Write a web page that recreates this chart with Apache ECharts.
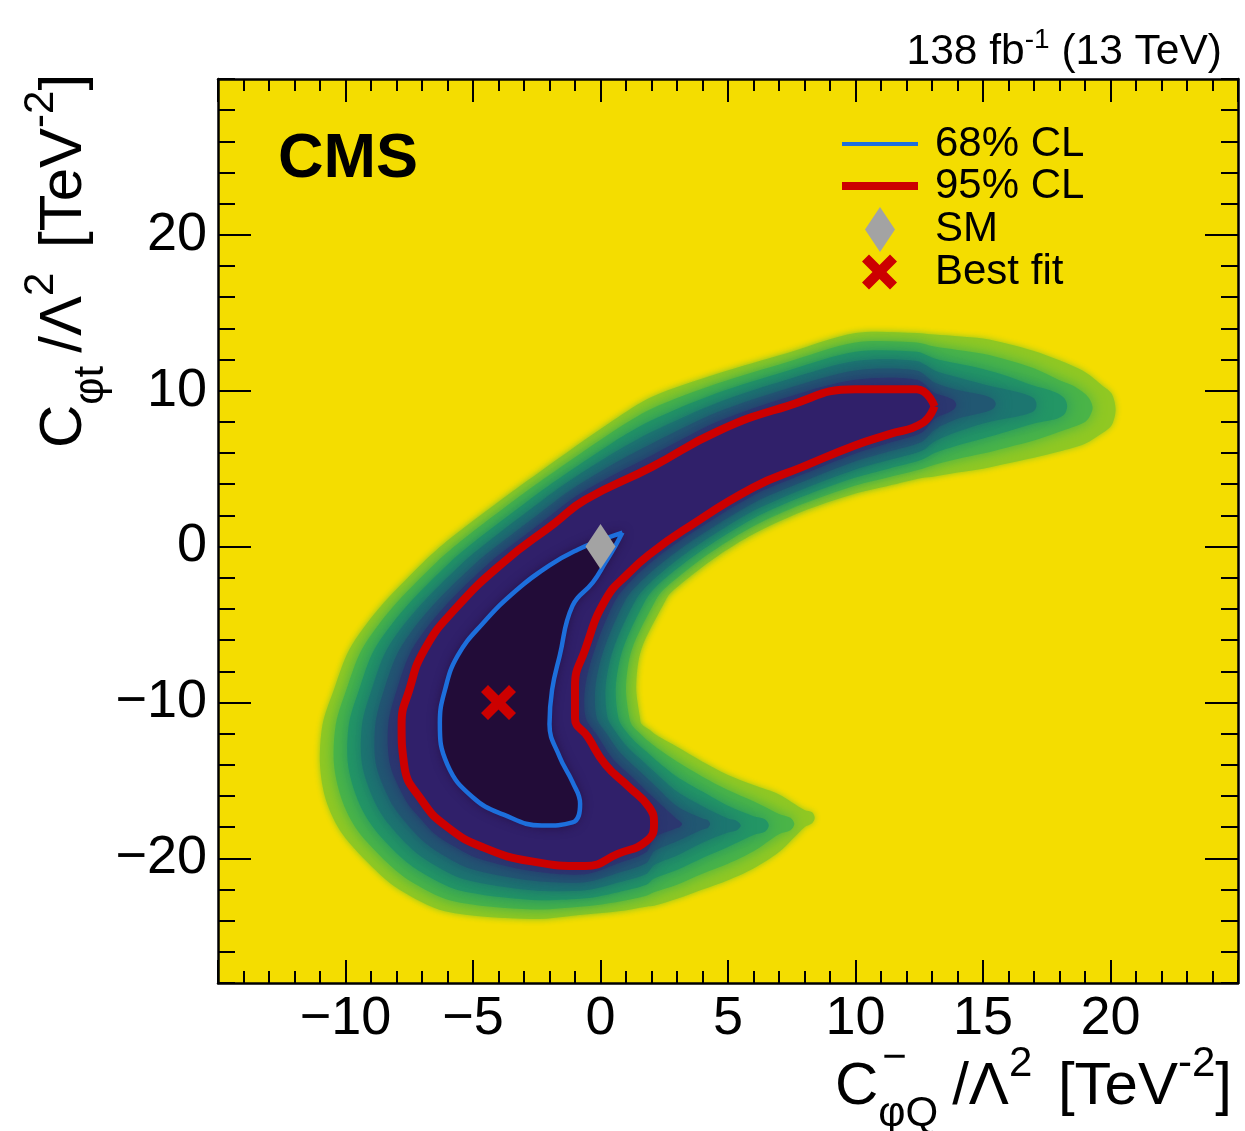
<!DOCTYPE html>
<html>
<head>
<meta charset="utf-8">
<script src="https://cdn.jsdelivr.net/npm/echarts@6/dist/echarts.min.js"></script>
<style>
html,body{margin:0;padding:0;background:#ffffff;}
#chart{width:1245px;height:1131px;}
</style>
</head>
<body>
<div id="chart"></div>
<script>
// ---------------- data ----------------
const xTickLabels = [-10, -5, 0, 5, 10, 15, 20];
const yTickLabels = [-20, -10, 0, 10, 20];

// SM expectation and best-fit point
const smPoint = [0.0, 0.0];
const bestFitPoint = [-4.0, -10.0];

// 68% CL contour (blue)
const contour68 = [[0.86,0.9],[0.6,0.1],[0.2,-1.0],[-0.3,-2.3],[-1.1,-3.8],[-1.6,-7.0],[-1.9,-9.2],[-2.0,-11.4],[-1.6,-13.5],[-1.1,-15.1],[-0.8,-16.5],[-1.1,-17.7],[-2.3,-17.9],[-3.8,-17.2],[-5.0,-16.1],[-6.0,-14.0],[-6.3,-11.3],[-6.1,-9.2],[-5.6,-7.0],[-4.6,-4.9],[-3.3,-2.8],[-2.0,-1.2],[-0.9,-0.2],[0.0,0.4],[0.86,0.9]];

// 95% CL contour (red)
const contour95 = [[13.1,9.0],[12.4,10.1],[10.0,10.1],[7.3,9.0],[4.6,7.4],[2.0,5.1],[-0.6,3.0],[-1.8,1.5],[-3.8,-1.0],[-5.7,-4.0],[-6.9,-6.6],[-7.5,-9.2],[-7.8,-11.4],[-7.7,-14.0],[-7.0,-16.3],[-6.0,-18.0],[-4.6,-19.3],[-2.7,-20.2],[-0.6,-20.5],[0.7,-19.7],[1.8,-18.9],[2.1,-17.8],[1.9,-16.7],[1.1,-15.4],[0.2,-14.0],[-0.5,-12.2],[-1.0,-11.0],[-1.0,-9.0],[-0.6,-6.6],[0.2,-3.4],[1.1,-1.7],[2.0,-0.4],[3.3,1.1],[6.0,3.8],[7.9,5.1],[10.0,6.5],[11.3,7.2],[12.6,7.9],[13.1,9.0]];

// Iso-level boundaries of the -2 dlnL map (palette steps 7 ... 2)
const level7 = [[20.2,8.8],[20.05,9.8],[19.7,10.3],[19,11.2],[18,11.95],[17,12.55],[16,13.0],[15,13.35],[14,13.5],[13.1,13.6],[12.4,13.7],[10,13.7],[7.3,12.4],[4.6,11.1],[2.0,9.6],[0.5,8.1],[-2.39,4.79],[-3.63,3.33],[-5.91,0.5],[-6.95,-1.0],[-8.71,-4.0],[-9.85,-6.6],[-10.46,-9.2],[-10.9,-11.4],[-11.0,-14.0],[-10.76,-16.3],[-10.13,-18.42],[-8.8,-20.8],[-7.9,-22.0],[-6.1,-23.4],[-2.7,-23.9],[-0.6,-23.6],[0.7,-23.4],[1.8,-23.1],[2.1,-23.05],[3,-22.6],[4,-22.0],[5,-21.4],[6,-20.65],[7,-19.6],[8,-18.0],[8.3,-17.75],[8.4,-17.4],[8.3,-17.05],[8,-16.9],[7,-15.9],[6,-15.3],[5,-14.65],[4,-13.8],[3,-12.85],[2.37,-12.27],[2.16,-12.06],[1.93,-11.75],[1.6,-11.36],[1.55,-11.0],[1.4,-9.0],[1.6,-6.6],[2.57,-3.4],[2.71,-3.04],[3.52,-1.92],[4.6,-0.6],[6.0,0.8],[7.9,2.23],[10,3.4],[11.3,3.9],[12.6,4.4],[13.1,4.5],[14,4.75],[15,5.0],[16,5.35],[17,5.7],[18,6.1],[19,6.6],[19.7,7.3],[20.05,7.8]];
const level6 = [[19.3,8.9],[19.2,9.4],[19.0,9.8],[18.5,10.35],[18,10.67],[17,11.44],[16,11.96],[15,12.37],[14,12.62],[13.1,12.83],[12.4,13.1],[10,13.1],[7.3,11.83],[4.6,10.48],[2.0,8.85],[0.5,7.4],[-2.09,4.49],[-3.33,3.03],[-5.36,0.5],[-6.43,-1.0],[-8.21,-4.0],[-9.36,-6.6],[-9.97,-9.2],[-10.38,-11.4],[-10.45,-14.0],[-10.13,-16.3],[-9.53,-18.21],[-8.33,-20.33],[-7.47,-21.45],[-5.85,-22.72],[-2.7,-23.28],[-0.6,-23.08],[0.7,-22.78],[1.8,-22.4],[2.1,-22.18],[3,-21.69],[4,-20.99],[5,-20.35],[6,-19.55],[7,-18.45],[7.45,-18.2],[7.6,-17.8],[7.45,-17.4],[7,-17.15],[6,-16.34],[5,-15.62],[4,-14.76],[3,-13.79],[2.29,-13.01],[1.98,-12.62],[1.64,-12.13],[1.25,-11.5],[1.13,-11.0],[1.0,-9.0],[1.23,-6.6],[2.18,-3.4],[2.44,-2.82],[3.27,-1.67],[4.38,-0.32],[6.0,1.3],[7.9,2.71],[10,3.92],[11.3,4.45],[12.6,4.98],[13.1,5.25],[14,5.62],[15,5.97],[16,6.38],[17,6.8],[18,7.36],[18.5,7.65],[19.0,8.0],[19.2,8.4]];
const level5 = [[18.3,9.0],[18.2,9.5],[17.9,9.85],[17.5,10.1],[17,10.32],[16,10.92],[15,11.4],[14,11.74],[13.1,12.07],[12.4,12.5],[10,12.5],[7.3,11.27],[4.6,9.87],[2.0,8.1],[0.5,6.7],[-1.79,4.19],[-3.02,2.72],[-4.81,0.5],[-5.9,-1.0],[-7.7,-4.0],[-8.87,-6.6],[-9.47,-9.2],[-9.87,-11.4],[-9.9,-14.0],[-9.51,-16.3],[-8.92,-18.0],[-7.87,-19.87],[-7.03,-20.9],[-5.6,-22.03],[-2.7,-22.67],[-0.6,-22.57],[0.7,-22.17],[1.8,-21.7],[2.1,-21.3],[3,-20.75],[4,-19.98],[5,-19.27],[6,-18.5],[6.45,-18.3],[6.6,-17.9],[6.45,-17.5],[6,-17.3],[5,-16.63],[4,-15.72],[3,-14.76],[2.21,-13.75],[1.81,-13.17],[1.35,-12.5],[0.9,-11.64],[0.7,-11.0],[0.6,-9.0],[0.87,-6.6],[1.78,-3.4],[2.17,-2.59],[3.01,-1.41],[4.17,-0.03],[6.0,1.8],[7.9,3.19],[10,4.43],[11.3,5.0],[12.6,5.57],[13.1,6.0],[14,6.49],[15,6.93],[16,7.4],[17,7.89],[17.5,8.05],[17.9,8.2],[18.2,8.5]];
const level4 = [[17.1,9.1],[17.0,9.5],[16.6,9.8],[16,10.05],[15,10.42],[14,10.86],[13.1,11.3],[12.4,11.9],[10,11.9],[7.3,10.7],[4.6,9.25],[2.0,7.35],[0.5,6.0],[-1.5,3.9],[-2.72,2.42],[-4.26,0.5],[-5.38,-1.0],[-7.2,-4.0],[-8.38,-6.6],[-8.98,-9.2],[-9.35,-11.4],[-9.35,-14.0],[-8.88,-16.3],[-8.32,-17.79],[-7.4,-19.4],[-6.6,-20.35],[-5.35,-21.35],[-2.7,-22.05],[-0.6,-22.05],[0.7,-21.55],[1.8,-21.0],[2.1,-20.43],[3,-19.82],[4,-19.0],[5,-18.35],[5.35,-18.2],[5.5,-17.9],[5.35,-17.6],[5,-17.45],[4,-16.66],[3,-15.72],[2.14,-14.49],[1.63,-13.73],[1.07,-12.88],[0.55,-11.78],[0.28,-11.0],[0.2,-9.0],[0.5,-6.6],[1.39,-3.4],[1.91,-2.37],[2.76,-1.16],[3.95,0.25],[6.0,2.3],[7.9,3.67],[10,4.95],[11.3,5.55],[12.6,6.15],[13.1,6.75],[14,7.36],[15,7.9],[16,8.25],[16.6,8.45],[17.0,8.7]];
const level3 = [[15.5,9.15],[15.4,9.45],[15.0,9.72],[14,10.05],[13.1,10.53],[12.4,11.3],[10,11.3],[7.3,10.13],[4.6,8.63],[2.0,6.6],[0.5,5.3],[-1.2,3.6],[-2.41,2.11],[-3.7,0.5],[-4.85,-1.0],[-6.7,-4.0],[-7.88,-6.6],[-8.49,-9.2],[-8.83,-11.4],[-8.8,-14.0],[-8.25,-16.3],[-7.71,-17.57],[-6.93,-18.93],[-6.17,-19.8],[-5.1,-20.67],[-2.7,-21.43],[-0.6,-21.53],[0.7,-20.93],[1.8,-20.3],[2.1,-19.55],[3,-18.9],[4,-18.15],[4.2,-18.05],[4.3,-17.8],[4.2,-17.55],[4,-17.45],[3,-16.66],[2.06,-15.22],[1.45,-14.29],[0.78,-13.25],[0.2,-11.92],[-0.15,-11.0],[-0.2,-9.0],[0.13,-6.6],[0.99,-3.4],[1.64,-2.15],[2.51,-0.91],[3.73,0.53],[6.0,2.8],[7.9,4.14],[10,5.47],[11.3,6.1],[12.6,6.73],[13.1,7.5],[14,8.2],[15.0,8.6],[15.4,8.85]];
const level2 = [[13.95,9.1],[13.85,9.4],[13.5,9.65],[13.1,9.85],[12.4,10.7],[10,10.7],[7.3,9.57],[4.6,8.02],[2.0,5.85],[0.5,4.6],[-0.9,3.3],[-2.11,1.81],[-3.15,0.5],[-4.33,-1.0],[-6.2,-4.0],[-7.39,-6.6],[-7.99,-9.2],[-8.32,-11.4],[-8.25,-14.0],[-7.63,-16.3],[-7.11,-17.36],[-6.47,-18.47],[-5.73,-19.25],[-4.85,-19.98],[-2.7,-20.82],[-0.6,-21.02],[0.7,-20.32],[1.8,-19.6],[2.1,-18.68],[3,-18.05],[3.1,-18.0],[3.2,-17.8],[3.1,-17.6],[3,-17.5],[1.98,-15.96],[1.28,-14.84],[0.49,-13.63],[-0.15,-12.06],[-0.58,-11.0],[-0.6,-9.0],[-0.23,-6.6],[0.6,-3.4],[1.37,-1.92],[2.25,-0.65],[3.52,0.82],[6.0,3.3],[7.9,4.62],[10,5.98],[11.3,6.65],[12.6,7.32],[13.1,8.2],[13.5,8.5],[13.85,8.8]];

// ---------------- styling ----------------
const FONT = '"Liberation Sans", Arial, Helvetica, sans-serif';
const viridis = ['#1a091e', '#331860', '#2b3770', '#215772', '#1c7670', '#239665', '#4ab448', '#90c823', '#f4dd00'];
const RED = '#cc0000';
const BLUE = '#1d6fdc';
const GREY = '#a3a3a3';
const CROSS = 'path://M20,0 L50,30 L80,0 L100,20 L70,50 L100,80 L80,100 L50,70 L20,100 L0,80 L30,50 L0,20 Z';

function fmtNum(v) { return v < 0 ? '\u2212' + Math.abs(v) : String(v); }

function bandSeries(pts, color, blur) {
  return {
    type: 'custom', coordinateSystem: 'cartesian2d', xAxisIndex: 0, yAxisIndex: 0,
    silent: true, clip: true, animation: false,
    data: pts,
    encode: { x: 0, y: 1 },
    renderItem: function (params, api) {
      if (params.dataIndex !== 0) return null;
      const points = pts.map(function (p) { return api.coord(p); });
      return { type: 'polygon', shape: { points: points, smooth: 0.3 },
               style: { fill: color, shadowBlur: blur, shadowColor: color } };
    }
  };
}

// text layout helper (positions only)
const mctx = document.createElement('canvas').getContext('2d');
function tw(t, size, weight) { mctx.font = (weight || 'normal') + ' ' + size + 'px ' + FONT; return mctx.measureText(t).width; }
function runWidth(pieces) {
  let w = 0;
  pieces.forEach(function (p) { w += (p.dx || 0); if (!p.stack) w += tw(p.t, p.size, p.weight); });
  return w;
}
function buildRun(pieces, x0, midY) {
  const els = []; let x = x0;
  pieces.forEach(function (p) {
    x += (p.dx || 0);
    els.push({ type: 'text', x: x, y: midY + (p.dy || 0), silent: true,
      style: { text: p.t, fontSize: p.size, fontFamily: FONT, fontWeight: p.weight || 'normal', fill: '#000',
               align: 'left', verticalAlign: 'middle', textAlign: 'left', textVerticalAlign: 'middle' } });
    if (!p.stack) x += tw(p.t, p.size, p.weight);
  });
  return els;
}

const xTitle = [
  { t: 'C', size: 60 },
  { t: '\u2212', size: 42, dy: -29, stack: true, dx: 4 },
  { t: '\u03c6Q', size: 42, dy: 27, dx: -4 },
  { t: '/\u039b', size: 60, dx: 14 },
  { t: '2', size: 42, dy: -23 },
  { t: ' [TeV', size: 60, dx: 9 },
  { t: '-2', size: 42, dy: -23 },
  { t: ']', size: 60 }
];
const yTitle = [
  { t: 'C', size: 60 },
  { t: '\u03c6t', size: 42, dy: 27 },
  { t: '/\u039b', size: 60, dx: 13 },
  { t: '2', size: 42, dy: -23 },
  { t: ' [TeV', size: 60, dx: 8 },
  { t: '-2', size: 42, dy: -23 },
  { t: ']', size: 60 }
];
const lumiText = [
  { t: '138 fb', size: 42.5 },
  { t: '-1', size: 28, dy: -12 },
  { t: ' (13 TeV)', size: 42.5 }
];

const graphics = [];
buildRun(xTitle, 1232 - runWidth(xTitle), 1087).forEach(function (e) { graphics.push(e); });
graphics.push({ type: 'group', x: 64, y: 448, rotation: Math.PI / 2, silent: true, children: buildRun(yTitle, 0, 0) });
buildRun(lumiText, 1222 - runWidth(lumiText), 52).forEach(function (e) { graphics.push(e); });
graphics.push({ type: 'text', x: 278, y: 160, silent: true,
  style: { text: 'CMS', fontSize: 63, fontWeight: 'bold', fontFamily: FONT, fill: '#000', align: 'left', verticalAlign: 'middle' } });

const tickStyle = { color: '#000', width: 2 };
function xAx(pos, showLabel) {
  return {
    type: 'value', min: -15, max: 25, interval: 5, position: pos,
    axisLine: { show: true, onZero: false, lineStyle: { color: '#000', width: 2.5 } },
    axisTick: { show: true, inside: true, length: 23, lineStyle: tickStyle },
    minorTick: { show: true, splitNumber: 5, length: 12, lineStyle: tickStyle },
    splitLine: { show: false }, minorSplitLine: { show: false },
    axisLabel: { show: showLabel, margin: 9, fontSize: 54, fontFamily: FONT, color: '#000',
      formatter: function (v) { return xTickLabels.indexOf(v) >= 0 ? fmtNum(v) : ''; } }
  };
}
function yMinor(pos, showLabel) {
  return {
    type: 'value', min: -28, max: 30, interval: 2, position: pos,
    axisLine: { show: true, onZero: false, lineStyle: { color: '#000', width: 2.5 } },
    axisTick: { show: true, inside: true, length: 17, lineStyle: tickStyle },
    splitLine: { show: false },
    axisLabel: { show: showLabel, margin: 11, fontSize: 54, fontFamily: FONT, color: '#000',
      formatter: function (v) { return yTickLabels.indexOf(v) >= 0 ? fmtNum(v) : ''; } }
  };
}
function yMajor(pos) {
  return {
    type: 'value', min: -28, max: 30, position: pos,
    axisLine: { show: false, onZero: false },
    axisTick: { show: true, inside: true, length: 33, lineStyle: tickStyle, customValues: yTickLabels },
    splitLine: { show: false },
    axisLabel: { show: false }
  };
}

const legendText = { fontSize: 42, fontFamily: FONT, color: '#000', lineHeight: 44 };
const chart = echarts.init(document.getElementById('chart'), null, { renderer: 'canvas' });
chart.setOption({
  animation: false,
  backgroundColor: '#ffffff',
  grid: { left: 218, top: 79, right: 7, bottom: 148, show: true, backgroundColor: viridis[8], borderWidth: 0 },
  xAxis: [xAx('bottom', true), xAx('top', false)],
  yAxis: [yMinor('left', true), yMajor('left'), yMinor('right', false), yMajor('right')],
  legend: [
    { data: [{ name: '68% CL', icon: 'rect' }], left: 842, top: 122, padding: 0, itemWidth: 76, itemHeight: 4, selectedMode: false,
      textStyle: Object.assign({ padding: [0, 0, 0, 12] }, legendText) },
    { data: [{ name: '95% CL', icon: 'rect' }], left: 842, top: 164, padding: 0, itemWidth: 76, itemHeight: 8, selectedMode: false,
      textStyle: Object.assign({ padding: [0, 0, 0, 12] }, legendText) },
    { data: [{ name: 'SM', icon: 'diamond' }], left: 865, top: 207, padding: 0, itemWidth: 30, itemHeight: 45, selectedMode: false,
      textStyle: Object.assign({ padding: [0, 0, 0, 35] }, legendText) },
    { data: [{ name: 'Best fit', icon: CROSS }], left: 862, top: 250, padding: 0, itemWidth: 35, itemHeight: 35, selectedMode: false,
      textStyle: Object.assign({ padding: [0, 0, 0, 33] }, legendText) }
  ],
  series: [
    bandSeries(level7, viridis[7], 6),
    bandSeries(level6, viridis[6], 14),
    bandSeries(level5, viridis[5], 16),
    bandSeries(level4, viridis[4], 16),
    bandSeries(level3, viridis[3], 16),
    bandSeries(level2, viridis[2], 14),
    bandSeries(contour95, '#30206a', 12),
    bandSeries(contour68, '#220c38', 12),
    { name: '95% CL', type: 'line', data: contour95, smooth: 0.5, symbol: 'none', silent: true,
      color: RED, lineStyle: { color: RED, width: 8 }, z: 5 },
    { name: '68% CL', type: 'line', data: contour68, smooth: 0.45, symbol: 'none', silent: true,
      color: BLUE, lineStyle: { color: BLUE, width: 4.5 }, z: 5 },
    { name: 'SM', type: 'scatter', data: [smPoint], symbol: 'diamond', symbolSize: [30, 45], silent: true,
      itemStyle: { color: GREY, opacity: 1 }, z: 6 },
    { name: 'Best fit', type: 'scatter', data: [bestFitPoint], symbol: CROSS, symbolSize: 35, silent: true,
      itemStyle: { color: RED, opacity: 1 }, z: 6 }
  ],
  graphic: graphics
});
</script>
</body>
</html>
